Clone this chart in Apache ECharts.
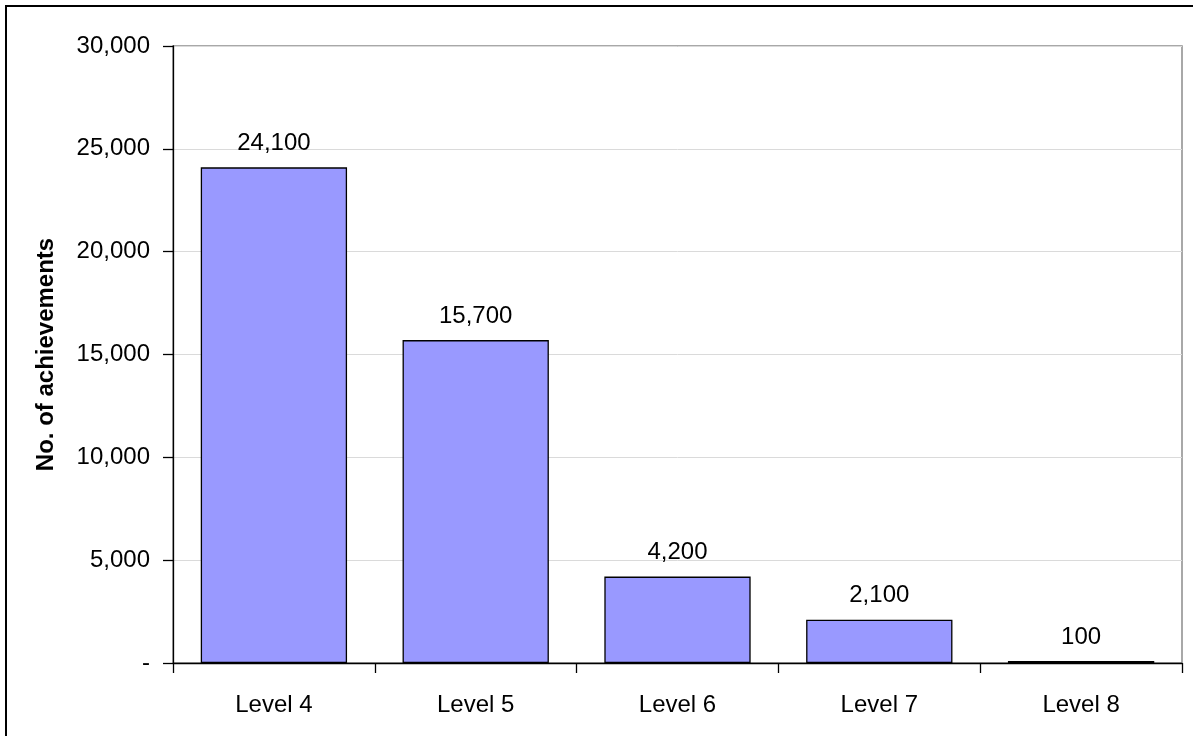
<!DOCTYPE html>
<html>
<head>
<meta charset="utf-8">
<script src="https://cdn.jsdelivr.net/npm/echarts@6/dist/echarts.min.js"></script>
<style>
  html, body { margin: 0; padding: 0; background: #fff; overflow: hidden; }
  #frame { position: absolute; left: 5px; top: 5px; width: 3000px; height: 3000px; border: 2px solid #000; box-sizing: border-box; }
  #chart { position: absolute; left: 0; top: 0; width: 1193px; height: 736px; }
</style>
</head>
<body>
<div id="frame"></div>
<div id="chart"></div>
<script>
const categories = ['Level 4', 'Level 5', 'Level 6', 'Level 7', 'Level 8'];
const achievements = [24100, 15700, 4200, 2100, 100];
const yTickInterval = 5000;
const yMax = 30000;
const yAxisTitle = 'No. of achievements';

function fmt(v) {
  if (v === 0) return '-';
  return v.toString().replace(/\B(?=(\d{3})+(?!\d))/g, ',');
}

const font = '"Liberation Sans", Arial, sans-serif';
const chart = echarts.init(document.getElementById('chart'), null, { renderer: 'canvas' });
chart.setOption({
  animation: false,
  backgroundColor: 'transparent',
  textStyle: { fontFamily: font },
  grid: {
    left: 173, right: 11, top: 46, bottom: 73,
    show: true, borderColor: '#8c8c8c', borderWidth: 1.5, backgroundColor: 'transparent'
  },
  xAxis: {
    type: 'category',
    data: categories,
    boundaryGap: true,
    axisLine: { lineStyle: { color: '#000', width: 1.3 } },
    axisTick: { show: true, length: 10, inside: false, alignWithLabel: false, lineStyle: { color: '#000', width: 1.3 } },
    axisLabel: { color: '#000', fontSize: 24, fontFamily: font, margin: 30 },
    splitLine: { show: false }
  },
  yAxis: {
    type: 'value',
    min: 0, max: yMax, interval: yTickInterval,
    name: yAxisTitle,
    nameLocation: 'middle',
    nameGap: 115,
    nameRotate: 90,
    nameTextStyle: { color: '#000', fontSize: 24, fontWeight: 'bold', fontFamily: font },
    axisLine: { show: true, lineStyle: { color: '#000', width: 1.3 } },
    axisTick: { show: true, length: 10, lineStyle: { color: '#000', width: 1.3 } },
    axisLabel: { color: '#000', fontSize: 24, fontFamily: font, margin: 23, formatter: fmt },
    splitLine: { show: true, lineStyle: { color: '#dadada', width: 1, type: 'solid' } }
  },
  series: [{
    type: 'bar',
    data: achievements,
    barCategoryGap: '27.5%',
    itemStyle: { color: '#9999FF', borderColor: '#000', borderWidth: 1.3 },
    label: {
      show: true, position: 'top', distance: 12,
      color: '#000', fontSize: 24, fontFamily: font,
      formatter: p => fmt(p.value)
    }
  }]
});
</script>
</body>
</html>
